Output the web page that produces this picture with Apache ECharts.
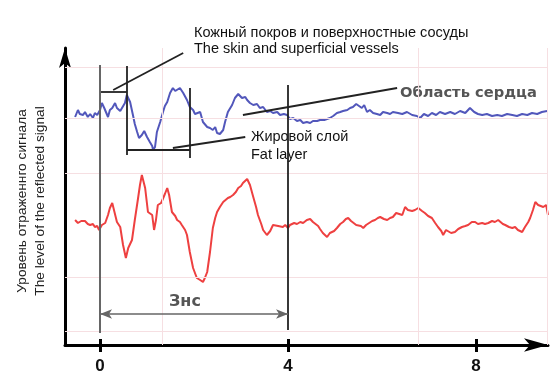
<!DOCTYPE html>
<html><head><meta charset="utf-8">
<script src="https://cdn.jsdelivr.net/npm/echarts@6/dist/echarts.min.js"></script>
<style>html,body{margin:0;padding:0;background:#fff}#c{width:553px;height:375px}</style>
</head><body><div id="c"></div>
<script>
// x tick labels (time) and range
const xTicks = [0, 4, 8];
// Blue trace: skin / fat / heart region reflection  [time, level]
const blueSignal = [
[-0.53,228],[-0.47,235],[-0.43,231],[-0.36,230],[-0.32,233],[-0.26,228],[-0.21,231],[-0.15,227],[-0.11,232],[-0.06,230],
[0,235],[0.04,242],[0.09,237],[0.11,238],[0.17,228],[0.21,235],[0.26,237],[0.32,242],[0.36,237],[0.38,238],
[0.43,234],[0.47,235],[0.53,242],[0.57,250],[0.64,243],[0.70,230],[0.74,221],[0.79,213],[0.83,207],[0.89,210],
[0.94,214],[1.00,208],[1.06,203],[1.11,199],[1.13,195],[1.17,198],[1.21,213],[1.28,223],[1.34,233],[1.38,239],
[1.43,243],[1.49,252],[1.55,257],[1.60,254],[1.64,255],[1.70,257],[1.77,252],[1.85,245],[1.91,238],[1.98,235],
[2.02,231],[2.06,232],[2.13,233],[2.19,223],[2.28,218],[2.34,217],[2.40,215],[2.45,218],[2.49,212],[2.55,211],
[2.62,215],[2.66,223],[2.72,233],[2.81,240],[2.87,247],[2.94,251],[3.02,247],[3.09,248],[3.13,245],[3.19,242],
[3.26,240],[3.34,241],[3.40,237],[3.47,238],[3.55,233],[3.62,234],[3.68,232],[3.77,233],[3.83,230],[3.91,231],
[3.98,230],[4.04,226],[4.11,227],[4.19,224],[4.26,225],[4.32,222],[4.40,223],[4.47,222],[4.53,224],[4.62,224],
[4.68,225],[4.77,225],[4.83,226],[4.89,227],[4.96,229],[5.04,232],[5.11,233],[5.17,234],[5.26,235],[5.32,237],
[5.38,238],[5.45,241],[5.49,242],[5.57,237],[5.62,240],[5.68,233],[5.74,235],[5.81,232],[5.89,231],[5.96,230],
[6.02,233],[6.11,232],[6.17,231],[6.23,233],[6.34,232],[6.43,231],[6.53,233],[6.64,230],[6.74,229],[6.81,227],
[6.89,231],[6.98,229],[7.06,232],[7.15,230],[7.23,233],[7.34,231],[7.45,233],[7.55,231],[7.66,234],[7.77,232],
[7.87,237],[7.96,233],[8.04,231],[8.13,230],[8.23,231],[8.34,229],[8.45,230],[8.55,229],[8.66,231],[8.77,230],
[8.87,229],[8.98,231],[9.09,230],[9.19,232],[9.30,231],[9.40,233],[9.51,234]
];
// Red trace  [time, level]
const redSignal = [
[-0.53,125],[-0.47,122],[-0.40,124],[-0.32,124],[-0.26,121],[-0.21,120],[-0.15,121],[-0.11,118],[-0.06,119],[-0.02,115],
[0.04,120],[0.11,122],[0.17,130],[0.21,137],[0.26,142],[0.30,140],[0.36,123],[0.43,118],[0.49,100],[0.55,87],
[0.60,97],[0.68,105],[0.74,125],[0.81,147],[0.85,160],[0.89,170],[0.96,157],[1.02,133],[1.06,132],[1.11,130],
[1.15,115],[1.19,125],[1.23,140],[1.30,142],[1.34,143],[1.38,151],[1.43,157],[1.47,150],[1.53,133],[1.60,129],
[1.64,125],[1.70,123],[1.74,120],[1.81,115],[1.85,110],[1.91,93],[1.98,77],[2.06,67],[2.13,65],[2.17,67],
[2.19,63],[2.23,67],[2.28,73],[2.34,93],[2.40,117],[2.45,127],[2.49,133],[2.55,138],[2.62,143],[2.66,142],
[2.72,147],[2.77,148],[2.83,150],[2.89,153],[2.94,157],[3.00,159],[3.04,162],[3.13,166],[3.19,160],[3.26,148],
[3.32,138],[3.36,130],[3.43,121],[3.47,115],[3.55,110],[3.62,114],[3.68,120],[3.72,122],[3.79,119],[3.83,121],
[3.89,118],[3.94,120],[4.00,117],[4.04,120],[4.13,122],[4.19,121],[4.26,123],[4.32,122],[4.40,125],[4.47,126],
[4.53,123],[4.57,121],[4.64,119],[4.68,116],[4.74,112],[4.83,108],[4.89,112],[4.98,114],[5.04,117],[5.11,121],
[5.17,123],[5.23,126],[5.28,127],[5.34,124],[5.38,122],[5.45,120],[5.49,118],[5.55,119],[5.60,117],[5.66,120],
[5.70,122],[5.79,124],[5.85,125],[5.91,127],[5.96,128],[6.04,126],[6.11,125],[6.17,127],[6.23,128],[6.30,132],
[6.34,133],[6.43,130],[6.49,138],[6.55,135],[6.64,134],[6.70,135],[6.77,137],[6.85,134],[6.91,132],[6.98,129],
[7.06,127],[7.13,122],[7.19,118],[7.26,114],[7.30,110],[7.36,115],[7.40,115],[7.47,112],[7.55,113],[7.62,116],
[7.70,118],[7.77,119],[7.83,120],[7.91,123],[7.98,123],[8.04,121],[8.13,122],[8.19,121],[8.26,122],[8.34,124],
[8.40,123],[8.47,125],[8.51,125],[8.57,121],[8.62,120],[8.70,118],[8.77,117],[8.83,118],[8.89,115],[8.98,113],
[9.04,118],[9.11,123],[9.15,127],[9.21,135],[9.26,143],[9.32,140],[9.36,140],[9.43,138],[9.49,140],[9.53,130]
];
// Boundary markers: [time, levelFrom, levelTo]
const markerVerticals = [[0.57,279,190],[1.91,257,187],[4,260,15]];
const zeroMarker = [0, 280, 12];
// Bracket horizontals: [timeFrom, timeTo, level]
const brackets = [[0,0.57,253],[0.57,1.91,195]];
// Leader lines to annotations: [t1, v1, t2, v2]
const leaders = [[0.28,255,1.77,292],[1.55,197,3.09,208],[3.04,230,6.32,257]];
// Measured span (Знс)
const spanRange = [0, 4, 31];
// Faint background grid
const gridLevels = [278, 227, 172, 68, 14];
const gridTimes = [1.32, 6.77, 9.51];

const chart = echarts.init(document.getElementById('c'), null, {renderer:'canvas'});
const seg = (a,b)=>[{coord:a},{coord:b}];
const markerLines = [];
markerVerticals.forEach(m=>markerLines.push(seg([m[0],m[1]],[m[0],m[2]])));
brackets.forEach(b=>markerLines.push(seg([b[0],b[2]],[b[1],b[2]])));
leaders.forEach(l=>markerLines.push(seg([l[0],l[1]],[l[2],l[3]])));

const axisBase = {
  type:'value', min:-0.745, max:9.53, position:'bottom',
  splitLine:{show:false}, axisPointer:{show:false}
};
const option = {
  animation:false,
  grid:{left:65, right:5, top:48, bottom:30},
  xAxis:[
    Object.assign({}, axisBase, {
      axisLine:{show:true, onZero:false, lineStyle:{color:'#000', width:3}, symbol:['none','arrow'], symbolSize:[10,24]},
      axisTick:{show:true, customValues:xTicks, length:7, lineStyle:{color:'#000', width:3}},
      axisLabel:{show:true, customValues:xTicks, margin:13, fontFamily:'Liberation Sans', fontWeight:'bold', fontSize:17, color:'#111'}
    }),
    Object.assign({}, axisBase, {
      axisLine:{show:false, onZero:false},
      axisTick:{show:true, inside:true, customValues:xTicks, length:6, lineStyle:{color:'#000', width:3}},
      axisLabel:{show:false}
    })
  ],
  yAxis:{
    type:'value', min:0, max:297,
    axisLine:{show:true, onZero:false, lineStyle:{color:'#000', width:3}, symbol:['none','arrow'], symbolSize:[9,20]},
    axisTick:{show:false}, axisLabel:{show:false}, splitLine:{show:false}
  },
  series:[
    {type:'line', data:[], silent:true,
     markLine:{silent:true, symbol:'none', label:{show:false},
       lineStyle:{color:'#f6dfe2', width:1, type:'solid'},
       data: gridLevels.map(v=>({yAxis:v})).concat(gridTimes.map(t=>({xAxis:t})))}},
    {type:'line', name:'blue', data:blueSignal, showSymbol:false, clip:false,
     lineStyle:{color:'#5257bb', width:2}, itemStyle:{color:'#5257bb'}, z:3},
    {type:'line', name:'red', data:redSignal, showSymbol:false, clip:false,
     lineStyle:{color:'#ee4040', width:2}, itemStyle:{color:'#ee4040'}, z:3},
    {type:'line', data:[], silent:true, z:4,
     markLine:{silent:true, symbol:'none', label:{show:false}, animation:false,
       lineStyle:{color:'#222', width:1.8, type:'solid'}, data:markerLines}},
    {type:'line', data:[], silent:true, z:4,
     markLine:{silent:true, symbol:'none', label:{show:false},
       lineStyle:{color:'#666', width:2, type:'solid'},
       data:[seg([zeroMarker[0],zeroMarker[1]],[zeroMarker[0],zeroMarker[2]])]}},
    {type:'line', data:[], silent:true, z:4,
     markLine:{silent:true, symbol:['arrow','arrow'], symbolSize:[7,12], label:{show:false},
       lineStyle:{color:'#666', width:1.5, type:'solid'},
       data:[seg([spanRange[0],spanRange[2]],[spanRange[1],spanRange[2]])]}}
  ],
  graphic:[
    {type:'text', x:194, y:33, style:{text:'Кожный покров и поверхностные сосуды', font:'14.5px "Liberation Sans", Arial, sans-serif', fill:'#111', verticalAlign:'middle'}},
    {type:'text', x:194, y:49, style:{text:'The skin and superficial vessels', font:'14.5px "Liberation Sans", Arial, sans-serif', fill:'#111', verticalAlign:'middle'}},
    {type:'text', x:251, y:137, style:{text:'Жировой слой', font:'14.5px "Liberation Sans", Arial, sans-serif', fill:'#111', verticalAlign:'middle'}},
    {type:'text', x:251, y:155, style:{text:'Fat layer', font:'14.5px "Liberation Sans", Arial, sans-serif', fill:'#111', verticalAlign:'middle'}},
    {type:'text', x:400, y:93, style:{text:'Область сердца', font:'bold 14.7px "DejaVu Sans", sans-serif', fill:'#555', verticalAlign:'middle'}},
    {type:'text', x:169, y:302, style:{text:'Знс', font:'bold 16px "DejaVu Sans", sans-serif', fill:'#555', verticalAlign:'middle'}},
    {type:'text', x:31, y:201, rotation:Math.PI/2, style:{text:'Уровень отраженнго сигнала\nThe level of the reflected signal', font:'13.7px "Liberation Sans", Arial, sans-serif', fill:'#222', align:'center', verticalAlign:'middle', lineHeight:18}}
  ]
};
chart.setOption(option);
</script>
</body></html>
